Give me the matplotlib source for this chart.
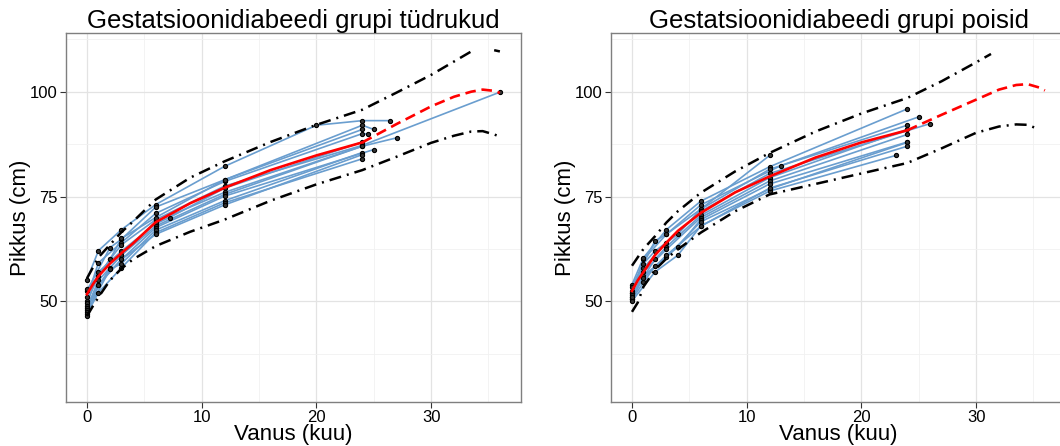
import numpy as np
import matplotlib
matplotlib.use('Agg')
import matplotlib.pyplot as plt

plt.rcParams['font.family'] = ['Liberation Sans', 'DejaVu Sans']

# girls: individual measurements (age in months, height in cm)
girls_ages = [
    [0, 1, 3, 6, 12, 20, 24, 26.4],
    [0, 2, 3, 6, 12, 24, 25],
    [0, 1, 3, 6, 12, 24, 24.5],
    [0, 1, 2, 3, 6, 12, 24, 36],
    [0, 1, 3, 6, 7.2, 12, 24],
    [0, 2, 3, 6, 12, 24, 27],
    [0, 1, 3, 6, 12, 24],
    [0, 1, 3, 6, 12, 25],
    [0, 2, 3, 6, 12, 24],
    [0, 1, 3, 6, 12, 24],
    [0, 1, 3, 6, 12, 24],
    [0, 1, 2, 3, 6, 12, 24],
]
girls_heights = [
    [55.2, 62.1, 67.1, 73.1, 82.2, 92.0, 93.1, 93.1],
    [52.5, 62.8, 64.8, 72.5, 79.0, 92.0, 91.0],
    [51.0, 59.2, 64.0, 71.0, 78.6, 90.0, 89.9],
    [50.0, 56.0, 60.0, 63.5, 69.5, 77.5, 87.2, 99.9],
    [49.5, 57.0, 62.0, 68.5, 70.0, 77.0, 88.0],
    [49.0, 58.0, 61.0, 69.0, 76.0, 87.0, 89.0],
    [48.5, 55.0, 61.0, 68.0, 75.5, 87.0],
    [48.0, 54.0, 60.0, 67.6, 75.1, 86.2],
    [47.5, 57.6, 59.0, 67.0, 74.0, 85.5],
    [47.0, 52.1, 58.0, 66.4, 73.5, 84.0],
    [46.5, 54.0, 60.0, 66.0, 73.0, 85.0],
    [53.0, 56.0, 60.0, 65.0, 70.0, 79.0, 91.0],
]

# boys: individual measurements
boys_ages = [
    [0, 1, 3, 6, 12],
    [0, 1, 3, 6, 12, 24],
    [0, 2, 3, 6, 13, 25],
    [0, 1, 2, 4, 6, 12, 24],
    [0, 1, 3, 6, 12, 26],
    [0, 2, 3, 6, 12, 24],
    [0, 1, 3, 6, 12, 24],
    [0, 1, 4, 6, 12, 24],
    [0, 1, 2, 3, 6, 12, 24],
    [0, 2, 4, 6, 12, 23],
    [0, 1, 3, 6, 12, 24],
]
boys_heights = [
    [52.0, 60.0, 66.0, 72.0, 84.8],
    [54.0, 60.4, 67.1, 73.9, 82.1, 95.9],
    [53.5, 64.4, 66.0, 73.0, 82.4, 94.0],
    [52.5, 59.0, 62.0, 66.0, 72.0, 81.5, 92.0],
    [52.0, 58.0, 64.0, 71.5, 80.5, 92.4],
    [51.5, 60.0, 63.0, 70.5, 79.5, 91.0],
    [51.0, 57.0, 62.4, 70.0, 78.7, 89.8],
    [50.5, 56.0, 63.0, 69.5, 78.0, 88.0],
    [50.5, 54.5, 58.4, 60.5, 69.0, 76.8, 87.9],
    [50.1, 57.0, 61.0, 68.0, 76.3, 84.8],
    [51.0, 55.5, 61.0, 67.9, 77.0, 87.0],
]

# reference curves (median + bounds)
curve_age = [0, 0.5, 1, 2, 3, 4, 6, 9, 12, 16, 20, 24, 27, 30, 32, 33.5, 34.5, 35.5, 36]
girls_median = [51.7, 54.0, 56.0, 59.0, 61.5, 63.8, 68.9, 73.4, 77.1, 81.3, 84.8, 87.9,
                92.3, 96.5, 98.8, 100.0, 100.5, 100.2, 99.7]
girls_upper = [55.5, 58.0, 60.5, 63.5, 66.5, 69.0, 74.3, 79.5, 83.4, 88.0, 92.1, 95.7,
               99.8, 104.0, 107.2, 109.6, np.nan, 109.9, 109.6]
girls_lower = [46.5, 48.8, 51.0, 55.0, 57.8, 60.0, 63.2, 66.6, 69.5, 74.0, 77.9, 81.3,
               84.5, 87.8, 89.5, 90.5, 90.6, 89.8, 89.3]

boys_median = [52.5, 55.0, 57.0, 61.0, 64.0, 66.8, 71.1, 76.0, 79.8, 84.3, 87.9, 90.8,
               94.5, 98.1, 100.5, 101.6, 101.8, 101.0, 100.3]
boys_upper_age = [0, 0.5, 1, 2, 3, 4, 6, 9, 12, 16, 20, 24, 27, 30, 31.3]
boys_upper = [58.5, 60.5, 62.5, 65.5, 68.8, 71.5, 75.9, 81.0, 85.4, 90.5, 94.8, 98.5,
              102.5, 107.0, 109.0]
boys_lower_age = [0, 0.5, 1, 2, 3, 4, 6, 9, 12, 16, 20, 24, 27, 30, 32, 33.5, 34.5, 35.5]
boys_lower = [47.5, 49.7, 53.5, 57.5, 60.2, 62.4, 66.4, 71.5, 75.5, 78.0, 80.5, 83.0,
              86.5, 90.2, 91.7, 92.2, 92.1, 91.0]

DOTDASH = (0, (4.8, 2.4, 0.8, 2.4))


def draw_panel(ax, ages, heights, med_age, median, up_age, upper, lo_age, lower, title):
    for a, h in zip(ages, heights):
        ax.plot(a, h, color='#6A9ECF', lw=1.2, zorder=2)
        ax.plot(a, h, 'o', ms=3.0, mfc='#333333', mec='black', mew=0.8, zorder=3)

    med_age = np.asarray(med_age)
    median = np.asarray(median)
    solid = med_age <= 24
    dashed = med_age >= 24
    ax.plot(med_age[solid], median[solid], color='red', lw=1.9, zorder=4)
    ax.plot(med_age[dashed], median[dashed], color='red', lw=1.9,
            linestyle=(0, (4, 2.2)), zorder=4)
    ax.plot(up_age, upper, color='black', lw=1.8, linestyle=DOTDASH, zorder=4)
    ax.plot(lo_age, lower, color='black', lw=1.8, linestyle=DOTDASH, zorder=4)

    ax.set_xlim(-1.83, 37.84)
    ax.set_ylim(26.0, 114.0)
    ax.set_xticks([0, 10, 20, 30])
    ax.set_xticks([5, 15, 25, 35], minor=True)
    ax.set_yticks([50, 75, 100])
    ax.set_yticks([37.5, 62.5, 87.5, 112.5], minor=True)
    ax.grid(which='major', color='#E3E3E3', lw=0.9)
    ax.grid(which='minor', color='#F1F1F1', lw=0.6)
    ax.set_axisbelow(True)
    for s in ax.spines.values():
        s.set_color('#7F7F7F')
        s.set_linewidth(1.0)
    ax.tick_params(which='major', length=4, color='#333333', labelsize=12,
                   labelcolor='black', pad=2)
    ax.tick_params(which='minor', length=0)
    ax.set_xlabel('Vanus (kuu)', fontsize=16, labelpad=-1)
    ax.set_ylabel('Pikkus (cm)', fontsize=16, labelpad=-1)
    ax.set_title(title, fontsize=18.5, pad=3)


fig = plt.figure(figsize=(10.6, 4.46), dpi=100)
ax1 = fig.add_axes([66 / 1060, 1 - 402 / 446, 455 / 1060, 369 / 446])
ax2 = fig.add_axes([611 / 1060, 1 - 402 / 446, 455 / 1060, 369 / 446])

draw_panel(ax1, girls_ages, girls_heights, curve_age, girls_median,
           curve_age, girls_upper, curve_age, girls_lower,
           'Gestatsioonidiabeedi grupi tüdrukud')
draw_panel(ax2, boys_ages, boys_heights, curve_age, boys_median,
           boys_upper_age, boys_upper, boys_lower_age, boys_lower,
           'Gestatsioonidiabeedi grupi poisid')

fig.savefig('out.png', dpi=100)
